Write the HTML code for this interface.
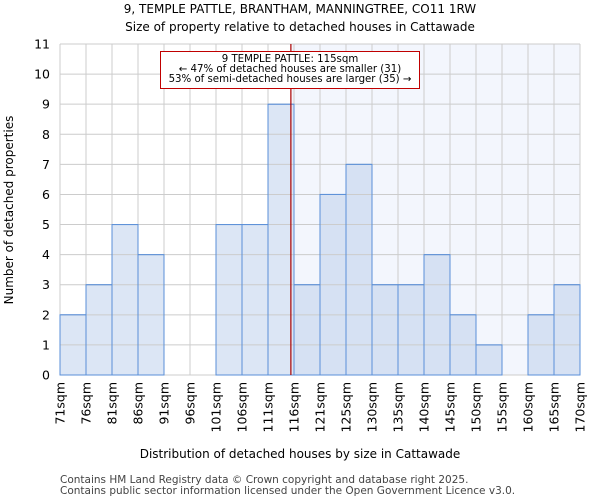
<!DOCTYPE html>
<html><head><meta charset="utf-8"><style>
body{margin:0;background:#fff;font-family:"DejaVu Sans","Liberation Sans",sans-serif;}
svg text{font-family:"DejaVu Sans","Liberation Sans",sans-serif;}
</style></head><body>
<svg id="c" width="600" height="500" xmlns="http://www.w3.org/2000/svg">
<text x="300" y="13" text-anchor="middle" font-size="12">9, TEMPLE PATTLE, BRANTHAM, MANNINGTREE, CO11 1RW</text>
<text x="300" y="31" text-anchor="middle" font-size="12">Size of property relative to detached houses in Cattawade</text>
<g id="plot"></g>
<text x="300" y="458" text-anchor="middle" font-size="12">Distribution of detached houses by size in Cattawade</text>
<text transform="translate(13,210) rotate(-90)" text-anchor="middle" font-size="12">Number of detached properties</text>
<text x="60" y="483" font-size="10.5" fill="#444">Contains HM Land Registry data © Crown copyright and database right 2025.</text>
<text x="60" y="494" font-size="10.5" fill="#444">Contains public sector information licensed under the Open Government Licence v3.0.</text>
</svg>
<script>
const categories=["71sqm","76sqm","81sqm","86sqm","91sqm","96sqm","101sqm","106sqm","111sqm","116sqm","121sqm","125sqm","130sqm","135sqm","140sqm","145sqm","150sqm","155sqm","160sqm","165sqm","170sqm"];
const counts=[2,3,5,4,0,0,5,5,9,3,6,7,3,3,4,2,1,0,2,3];
const yTicks=[0,1,2,3,4,5,6,7,8,9,10,11];
const markerBin=8.88;
const NS="http://www.w3.org/2000/svg";
const X0=60,X1=580,Y0=375,Y1=44,YMAX=11;
const bw=(X1-X0)/counts.length;
const xs=i=>X0+i*bw;
const ys=v=>Y0-v*(Y0-Y1)/YMAX;
const g=document.getElementById('plot');
function mk(t,a){const e=document.createElementNS(NS,t);for(const k in a)e.setAttribute(k,a[k]);g.appendChild(e);return e;}
const mx=xs(markerBin);
const sh=mk('rect',{x:mx,y:Y1,width:X1-mx,height:Y0-Y1,fill:'#f3f6fd'});


counts.forEach((v,i)=>{if(v<=0)return;
const r=mk('rect',{x:xs(i),y:ys(v),width:bw,height:Y0-ys(v),fill:xs(i)>=mx?'#d6e1f3':'#dce6f5',stroke:'#5a8fd8','stroke-width':1});

});
yTicks.forEach(t=>{const l=mk('line',{x1:X0,x2:X1,y1:ys(t),y2:ys(t),stroke:'#cccccc','stroke-width':1});


const tx=mk('text',{x:X0-10,y:ys(t)+4.5,'text-anchor':'end','font-size':12.5});tx.textContent=t;

});
categories.forEach((c,i)=>{const x=xs(i);
const l=mk('line',{x1:x,x2:x,y1:Y1,y2:Y0,stroke:'#cccccc','stroke-width':1});


const tx=mk('text',{transform:`translate(${x+4.5},382) rotate(-90)`,'text-anchor':'end','font-size':12.5});tx.textContent=c;

});
counts.forEach((v,i)=>{if(v<=0)return;
const r=mk('rect',{x:xs(i),y:ys(v),width:bw,height:Y0-ys(v),fill:'none',stroke:'#5a8fd8','stroke-width':1});

});
const ml=mk('line',{x1:mx,x2:mx,y1:Y1,y2:Y0,stroke:'#aa0000','stroke-width':1.2});


const bx=mk('rect',{x:160.5,y:51.5,width:259,height:37,fill:'#fff',stroke:'#c00000','stroke-width':1});


["9 TEMPLE PATTLE: 115sqm","← 47% of detached houses are smaller (31)","53% of semi-detached houses are larger (35) →"].forEach((s,k)=>{
const t=mk('text',{x:290,y:62+k*10,'text-anchor':'middle','font-size':10.2});t.textContent=s;

});
</script>
</body></html>
